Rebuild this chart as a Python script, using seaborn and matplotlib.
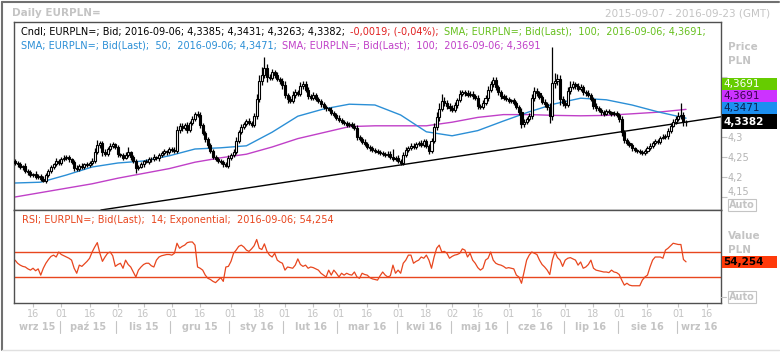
import numpy as np
import pandas as pd
import matplotlib
matplotlib.use("Agg")
import matplotlib.pyplot as plt
import matplotlib.transforms as mtransforms
from matplotlib.patches import Rectangle
from matplotlib.lines import Line2D
from matplotlib.ticker import FuncFormatter, FixedLocator
import seaborn as sns

# --- dane ---
start_day = "2015-09-07"
end_day = "2016-09-23"
first_open = 4.240

close = [
    4.235, 4.232, 4.225, 4.228, 4.215, 4.212, 4.205, 4.208, 4.200, 4.203,
    4.195, 4.190, 4.205, 4.215, 4.225, 4.232, 4.240, 4.236, 4.245, 4.248,
    4.250, 4.244, 4.238, 4.222, 4.220, 4.228, 4.225, 4.232, 4.230, 4.236,
    4.240, 4.262, 4.280, 4.284, 4.262, 4.258, 4.270, 4.278, 4.282, 4.275,
    4.258, 4.255, 4.248, 4.255, 4.262, 4.250, 4.240, 4.222, 4.226, 4.232,
    4.240, 4.238, 4.246, 4.244, 4.250, 4.247, 4.254, 4.260, 4.264, 4.262,
    4.270, 4.268, 4.265, 4.318, 4.328, 4.322, 4.330, 4.318, 4.335, 4.345,
    4.358, 4.355, 4.330, 4.310, 4.295, 4.280, 4.265, 4.250, 4.245, 4.240,
    4.238, 4.232, 4.228, 4.248, 4.255, 4.262, 4.290, 4.312, 4.325, 4.332,
    4.340, 4.335, 4.330, 4.352, 4.395, 4.440, 4.455, 4.472, 4.450, 4.448,
    4.462, 4.455, 4.445, 4.440, 4.430, 4.405, 4.395, 4.390, 4.405, 4.412,
    4.408, 4.428, 4.432, 4.418, 4.402, 4.398, 4.405, 4.396, 4.390, 4.382,
    4.375, 4.372, 4.368, 4.360, 4.355, 4.348, 4.342, 4.338, 4.335, 4.330,
    4.332, 4.328, 4.322, 4.300, 4.295, 4.288, 4.282, 4.275, 4.272, 4.268,
    4.265, 4.262, 4.260, 4.258, 4.255, 4.258, 4.250, 4.245, 4.248, 4.240,
    4.235, 4.255, 4.268, 4.272, 4.278, 4.275, 4.282, 4.285, 4.280, 4.290,
    4.278, 4.265, 4.290, 4.325, 4.350, 4.370, 4.390, 4.385, 4.378, 4.372,
    4.368, 4.380, 4.392, 4.408, 4.412, 4.410, 4.405, 4.408, 4.402, 4.398,
    4.378, 4.375, 4.385, 4.398, 4.418, 4.432, 4.442, 4.425, 4.412, 4.402,
    4.398, 4.395, 4.390, 4.392, 4.386, 4.375, 4.362, 4.332, 4.338, 4.345,
    4.352, 4.398, 4.415, 4.410, 4.400, 4.388, 4.382, 4.375, 4.352, 4.435,
    4.440, 4.445, 4.395, 4.385, 4.380, 4.415, 4.425, 4.432, 4.428, 4.420,
    4.425, 4.412, 4.410, 4.405, 4.395, 4.378, 4.372, 4.368, 4.362, 4.358,
    4.365, 4.362, 4.358, 4.360, 4.355, 4.345, 4.312, 4.292, 4.285, 4.280,
    4.272, 4.268, 4.265, 4.262, 4.260, 4.265, 4.272, 4.278, 4.285, 4.290,
    4.288, 4.298, 4.300, 4.302, 4.315, 4.328, 4.338, 4.345, 4.352, 4.356,
    4.3385, 4.3382,
]

# knoty powyzej/ponizej korpusu, w tysiecznych
hi_ext = [
    6, 4, 5, 3, 7, 4, 5, 3, 6, 4,   5, 8, 4, 6, 5, 3, 7, 4, 5, 6,
    4, 6, 3, 5, 8, 4, 6, 3, 5, 4,   7, 10, 12, 6, 5, 8, 4, 6, 5, 4,
    6, 3, 5, 8, 14, 4, 5, 6, 4, 5,  3, 6, 4, 5, 7, 3, 5, 4, 6, 4,
    5, 4, 6, 10, 8, 6, 5, 7, 6, 8,  5, 6, 7, 5, 6, 4, 5, 6, 4, 5,
    6, 4, 5, 8, 6, 7, 9, 6, 8, 5,   6, 7, 5, 9, 12, 15, 20, 28, 10, 8,
    9, 6, 7, 5, 8, 10, 6, 7, 9, 8,  6, 10, 8, 7, 6, 5, 8, 6, 5, 4,
    6, 5, 4, 6, 5, 4, 6, 5, 4, 5,   6, 5, 7, 8, 5, 4, 6, 5, 4, 5,
    4, 5, 6, 4, 5, 6, 8, 20, 5, 6,  4, 8, 6, 5, 7, 6, 5, 6, 8, 5,
    6, 5, 8, 10, 12, 15, 18, 10, 8, 6,  7, 8, 6, 10, 6, 5, 8, 6, 7, 5,
    6, 5, 7, 8, 10, 9, 8, 7, 6, 5,  5, 6, 5, 4, 6, 5, 6, 10, 8, 6,
    7, 9, 10, 8, 6, 5, 7, 6, 10, 90,  20, 12, 10, 8, 7, 10, 15, 8, 6, 7,
    8, 6, 5, 7, 6, 5, 6, 5, 4, 5,   6, 5, 4, 6, 5, 6, 8, 5, 6, 4,
    5, 4, 3, 4, 5, 6, 5, 6, 5, 4,   6, 5, 7, 6, 8, 7, 6, 8, 10, 30,
    6, 4.6,
]
lo_ext = [
    5, 6, 4, 7, 5, 6, 4, 5, 6, 5,   4, 3, 5, 4, 6, 5, 4, 6, 5, 4,
    5, 7, 6, 8, 5, 6, 4, 5, 6, 4,   5, 6, 4, 8, 10, 6, 5, 4, 6, 5,
    7, 5, 6, 4, 5, 8, 6, 12, 5, 4,  6, 4, 5, 6, 4, 5, 6, 4, 5, 6,
    4, 5, 6, 4, 8, 6, 5, 7, 6, 5,   6, 5, 8, 6, 7, 8, 6, 5, 6, 4,
    5, 6, 4, 5, 6, 4, 5, 6, 5, 6,   5, 6, 4, 5, 6, 8, 10, 8, 12, 6,
    5, 8, 6, 7, 9, 8, 10, 6, 5, 7,  6, 5, 7, 6, 8, 5, 6, 7, 5, 6,
    5, 6, 4, 5, 6, 5, 4, 6, 5, 4,   5, 6, 4, 7, 5, 6, 4, 5, 6, 5,
    6, 5, 4, 6, 5, 4, 6, 5, 6, 4,   5, 4, 6, 5, 4, 6, 5, 4, 5, 6,
    5, 7, 5, 6, 8, 10, 6, 8, 7, 6,  5, 6, 7, 5, 6, 8, 5, 6, 7, 6,
    8, 6, 5, 6, 7, 5, 6, 8, 7, 6,   5, 6, 5, 4, 6, 5, 8, 10, 7, 6,
    5, 6, 8, 7, 6, 5, 6, 8, 17, 10,  12, 10, 15, 8, 7, 6, 8, 6, 7, 6,
    5, 6, 7, 5, 6, 8, 6, 5, 6, 5,   4, 5, 6, 5, 6, 8, 10, 8, 6, 5,
    6, 5, 4, 5, 4, 5, 6, 4, 5, 6,   5, 6, 4, 5, 6, 5, 4, 6, 5, 6,
    12, 11.9,
]

rsi = [
    57, 52, 49, 47, 46, 43, 41, 44, 40, 43,  33, 44, 52, 58, 63, 65, 62, 70, 66, 64,
    62, 60, 57, 44, 36, 49, 47, 51, 55, 60,  70, 78, 85, 68, 55, 62, 68, 70, 64, 47,
    50, 52, 44, 57, 50, 46, 38, 30, 41, 46,  50, 52, 52, 48, 46, 57, 62, 64, 65, 66,
    66, 65, 68, 84, 76, 79, 81, 85, 86, 86,  81, 46, 44, 41, 33, 28, 26, 23, 21, 25,
    29, 23, 46, 47, 55, 68, 73, 79, 81, 78,  73, 71, 75, 80, 90, 76, 74, 83, 71, 65,
    62, 68, 57, 54, 52, 41, 46, 45, 44, 49,  59, 50, 47, 49, 44, 46, 45, 43, 41, 36,
    33, 30, 41, 33, 41, 36, 30, 36, 33, 36,  34, 33, 38, 30, 28, 36, 34, 33, 29, 27,
    26, 25, 32, 38, 33, 30, 32, 49, 36, 41,  36, 52, 57, 65, 65, 52, 55, 57, 62, 60,
    65, 57, 44, 62, 76, 81, 70, 71, 68, 60,  63, 65, 66, 68, 75, 73, 62, 68, 57, 52,
    45, 41, 44, 57, 60, 70, 57, 52, 50, 49,  47, 44, 45, 44, 43, 33, 30, 20, 38, 57,
    65, 70, 68, 66, 57, 50, 46, 41, 34, 57,  70, 61, 57, 47, 57, 60, 61, 59, 57, 49,
    54, 44, 46, 50, 57, 44, 41, 40, 39, 38,  38, 37, 41, 38, 37, 34, 25, 17, 20, 17,
    16, 16, 16, 16, 25, 30, 33, 46, 57, 62,  62, 62, 60, 73, 76, 80, 84, 83, 82, 82,
    58, 54.254,
]

# SMA odczytane co 10 sesji + ostatnia sesja
sma_step = 10
sma50 = [4.185, 4.187, 4.205, 4.225, 4.235, 4.240, 4.253, 4.270, 4.273, 4.278,
         4.312, 4.352, 4.370, 4.382, 4.380, 4.355, 4.313, 4.303, 4.316, 4.340,
         4.363, 4.383, 4.397, 4.393, 4.380, 4.363, 4.3471]
sma100 = [4.150, 4.161, 4.172, 4.183, 4.197, 4.209, 4.221, 4.237, 4.248, 4.257,
          4.275, 4.296, 4.311, 4.326, 4.328, 4.328, 4.328, 4.337, 4.349, 4.356,
          4.356, 4.354, 4.353, 4.354, 4.358, 4.362, 4.3691]

trend_days = ["2015-10-27", "2016-09-23"]
trend_vals = [4.120, 4.350]

month_names = ["wrz 15", "paź 15", "lis 15", "gru 15", "sty 16", "lut 16", "mar 16",
               "kwi 16", "maj 16", "cze 16", "lip 16", "sie 16", "wrz 16"]

price_ticks = [4.15, 4.2, 4.25, 4.3, 4.35, 4.4, 4.45]
hidden_ticks = [4.35, 4.4, 4.45]   # zasloniete przez etykiety wartosci

assert len(close) == len(hi_ext) == len(lo_ext) == len(rsi)
assert len(sma50) == len(sma100)

# --- kolory ---
c_grey = "#c4c4c4"
c_frame = "#505050"
c_blue = "#2b8fd6"
c_mag = "#c040c8"
c_green = "#66c01e"
c_red = "#e02020"
c_rsi = "#e8461e"

sns.set_theme(style="white")
plt.rcParams["font.family"] = ["DejaVu Sans"]

W, H = 780, 353
fig = plt.figure(figsize=(W / 100, H / 100), dpi=100)


def fx(px):
    return px / W


def fy(py):
    return 1 - py / H


ax1 = fig.add_axes([fx(14), fy(210), fx(707), 188 / H])
ax2 = fig.add_axes([fx(14), fy(303), fx(707), 93 / H], sharex=ax1)

days = pd.bdate_range(start_day, end_day)
n = len(close)
x = np.arange(n)
c = np.array(close)
o = np.r_[first_open, c[:-1]]
hi = np.maximum(o, c) + np.array(hi_ext) / 1000
lo = np.minimum(o, c) - np.array(lo_ext) / 1000

# --- swiece ---
ax1.vlines(x, lo, hi, color="black", lw=0.9, zorder=3)
up = c >= o
ax1.bar(x[up], (c - o)[up], bottom=o[up], width=0.8, color="white",
        edgecolor="black", lw=0.8, zorder=4)
ax1.bar(x[~up], (o - c)[~up], bottom=c[~up], width=0.8, color="black",
        edgecolor="black", lw=0.8, zorder=4)

# --- SMA ---
sma_x = [k * sma_step for k in range(len(sma50) - 1)] + [n - 1]
sns.lineplot(x=sma_x, y=sma100, ax=ax1, color=c_mag, lw=1.0, estimator=None, zorder=2)
sns.lineplot(x=sma_x, y=sma50, ax=ax1, color=c_blue, lw=1.0, estimator=None, zorder=2)

# --- linia trendu ---
t_idx = [days.get_loc(pd.Timestamp(d)) for d in trend_days]
ax1.axline((t_idx[0], trend_vals[0]), (t_idx[1], trend_vals[1]), color="black", lw=1.0, zorder=2)

ax1.set_xlim(-0.4, len(days) - 0.4)
ax1.set_ylim(4.1175, 4.5875)

# --- RSI ---
sns.lineplot(x=x, y=rsi, ax=ax2, color=c_rsi, lw=0.9, estimator=None)
ax2.axhline(70, color=c_rsi, lw=1.0)
ax2.axhline(30, color=c_rsi, lw=1.0)
ax2.set_ylim(-11.6, 137.2)

for ax in (ax1, ax2):
    for s in ax.spines.values():
        s.set_color(c_frame)
        s.set_linewidth(1.0)
    ax.set_xlabel("")
    ax.set_ylabel("")


def price_fmt(v, _):
    if any(abs(v - h) < 1e-9 for h in hidden_ticks):
        return ""
    return f"{v:g}".replace(".", ",")


# os cen po prawej
ax1.yaxis.tick_right()
ax1.yaxis.set_major_locator(FixedLocator(price_ticks))
ax1.yaxis.set_major_formatter(FuncFormatter(price_fmt))
ax1.tick_params(axis="y", which="major", right=True, left=False, length=4, width=0.8,
                color=c_grey, labelcolor="#b4b4b4", labelsize=7, pad=1, direction="out")
ax1.tick_params(axis="x", bottom=False, labelbottom=False)
for t, v in zip(ax1.yaxis.get_ticklabels(), price_ticks):
    if v == 4.15:
        t.set_verticalalignment("bottom")

ax2.set_yticks([])

# os czasu
tick_pos, tick_lab = [], []
for m in pd.period_range(days[0], days[-1], freq="M"):
    for d in (1, 16):
        t = pd.Timestamp(m.year, m.month, d)
        k = days.searchsorted(t)
        if t >= days[0] and k < len(days) and days[k].month == m.month:
            tick_pos.append(k)
            tick_lab.append(f"{days[k].day:02d}")
ax2.set_xticks(tick_pos)
ax2.set_xticklabels(tick_lab)
ax2.tick_params(axis="x", bottom=True, length=3, width=0.8, color=c_grey,
                labelcolor=c_grey, labelsize=7, pad=1.5, direction="out")

blend = mtransforms.blended_transform_factory(ax2.transData, fig.transFigure)
mon = days.to_period("M")
for j, m in enumerate(mon.unique()):
    idx = np.where(mon == m)[0]
    ax2.text((idx[0] + idx[-1]) / 2, fy(327), month_names[j], transform=blend,
             ha="center", va="center", fontsize=7, fontweight="bold", color=c_grey)
    if j > 0:
        fig.add_artist(Line2D([idx[0] - 0.6] * 2, [fy(321), fy(333)], transform=blend,
                              color=c_grey, lw=0.8))

# --- teksty naglowkow ---
fig.text(fx(12), fy(13), "Daily EURPLN=", fontsize=7.5, fontweight="bold", color=c_grey, va="center")
fig.text(fx(770), fy(13), "2015-09-07 - 2016-09-23 (GMT)", fontsize=7.5, color=c_grey,
         ha="right", va="center")

hdr = 7.0
renderer = fig.canvas.get_renderer()


def text_row(py, parts, x0=21, gap=5):
    xp = x0
    for txt, col in parts:
        t = fig.text(fx(xp), fy(py), txt, fontsize=hdr, color=col, va="center")
        xp += t.get_window_extent(renderer=renderer).width + gap


text_row(32, [("Cndl; EURPLN=; Bid; 2016-09-06; 4,3385; 4,3431; 4,3263; 4,3382;", "black"),
              ("-0,0019; (-0,04%);", c_red),
              ("SMA; EURPLN=; Bid(Last);  100;  2016-09-06; 4,3691;", c_green)])
text_row(45, [("SMA; EURPLN=; Bid(Last);  50;  2016-09-06; 4,3471;", c_blue),
              ("SMA; EURPLN=; Bid(Last);  100;  2016-09-06; 4,3691", c_mag)])
text_row(220, [("RSI; EURPLN=; Bid(Last);  14; Exponential;  2016-09-06; 54,254", c_rsi)], x0=22)

# prawy margines
for txt, py in (("Price", 47), ("PLN", 61), ("Value", 236), ("PLN", 250)):
    fig.text(fx(728), fy(py), txt, fontsize=7.5, fontweight="bold", color=c_grey, va="center")
for py in (205, 297):
    fig.text(fx(742), fy(py), "Auto", fontsize=7, fontweight="bold", color=c_grey,
             ha="center", va="center",
             bbox=dict(boxstyle="square,pad=0.15", fc="white", ec=c_grey, lw=0.8))
fig.add_artist(Line2D([fx(721), fx(726)], [fy(297)] * 2, color=c_grey, lw=0.8))


# --- etykiety wartosci ---
def tag(ax, value, label, face, fg, shift_px, h_px, bold=False):
    yc = ax.transData.transform((0, value))[1] + shift_px
    fig.add_artist(Rectangle((fx(722), (yc - h_px / 2) / H), fx(55), h_px / H,
                             transform=fig.transFigure, fc=face, ec="none", zorder=5))
    fig.text(fx(723), yc / H, label, fontsize=7.5, color=fg, va="center", zorder=6,
             fontweight="bold" if bold else "normal")


last = close[-1]
tag(ax1, last, "4,3382", "black", "white", 0, 15, bold=True)
tag(ax1, last, "4,3471", "#1c8ff0", "#0a2050", 14, 12)
tag(ax1, last, "4,3691", "#cc33ff", "#3a0050", 26, 12)
tag(ax1, last, "4,3691", "#66cc00", "white", 38, 12)
tag(ax2, rsi[-1], "54,254", "#ff3a0a", "black", 0, 12, bold=True)

# ramka okna
fig.add_artist(Line2D([fx(2), fx(2)], [fy(2), fy(350)], color="#707070", lw=1.5))
fig.add_artist(Line2D([fx(2), fx(779)], [fy(2), fy(2)], color="#707070", lw=1.5))
fig.add_artist(Line2D([fx(2), fx(779)], [fy(350), fy(350)], color="#e0e0e0", lw=1.0))

fig.savefig("out.png", dpi=100)
